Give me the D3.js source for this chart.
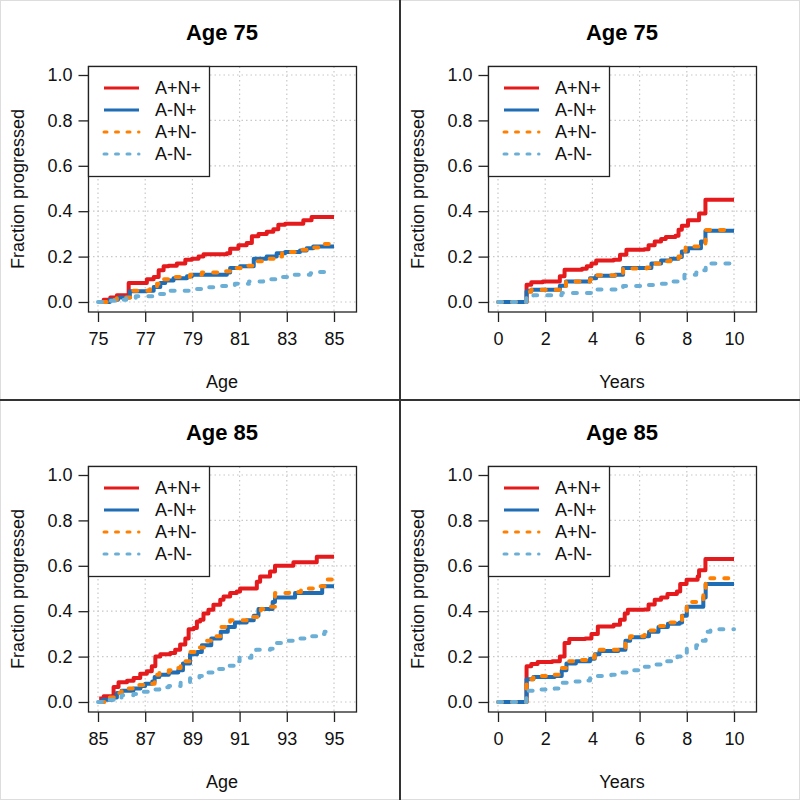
<!DOCTYPE html>
<html>
<head>
<meta charset="utf-8">
<script src="https://cdn.jsdelivr.net/npm/d3@7"></script>
<style>
  body { margin: 0; background: #fff; }
  svg { display: block; font-family: "Liberation Sans", Arial, sans-serif; }
</style>
</head>
<body>
<div class="chart"></div>
<script>
// groups shown in every panel
var groups = ["A+N+", "A-N+", "A+N-", "A-N-"];
var titles = ["Age 75", "Age 75", "Age 85", "Age 85"];
var xLabels = ["Age", "Years", "Age", "Years"];
var yTicks = [0, 0.2, 0.4, 0.6, 0.8, 1.0];
var ageTicks75 = [75, 77, 79, 81, 83, 85];
var ageTicks85 = [85, 87, 89, 91, 93, 95];
var yearTicks = [0, 2, 4, 6, 8, 10];

// Age 75, by age: [age, fraction progressed]
var age75AgeAposNpos = [[75.1,0],[75.24,0.01],[75.52,0.02],[75.8,0.03],[76.3,0.084],[77.07,0.10],[77.36,0.11],[77.57,0.14],[77.78,0.157],[77.99,0.16],[78.34,0.17],[78.7,0.186],[78.98,0.19],[79.26,0.20],[79.47,0.21],[80.46,0.215],[80.6,0.235],[80.95,0.25],[81.3,0.26],[81.52,0.29],[81.8,0.30],[82.15,0.31],[82.43,0.32],[82.64,0.34],[82.93,0.345],[83.7,0.36],[84.05,0.374],[85,0.374]];
var age75AgeAnegNpos = [[75.2,0],[75.5,0.01],[75.85,0.02],[76.35,0.047],[77.07,0.05],[77.36,0.066],[77.64,0.084],[77.85,0.095],[78.2,0.105],[78.77,0.113],[78.98,0.12],[80.46,0.13],[80.6,0.15],[81.02,0.157],[81.6,0.19],[82.15,0.20],[82.57,0.215],[82.93,0.22],[83.56,0.227],[83.84,0.237],[84.12,0.245],[85,0.245]];
var age75AgeAposNneg = [[75.2,0],[75.5,0.01],[75.8,0.02],[76.4,0.05],[77.2,0.06],[77.5,0.08],[77.8,0.10],[78.2,0.11],[78.9,0.12],[79.4,0.13],[80.2,0.135],[80.8,0.15],[81.3,0.16],[81.6,0.18],[82.0,0.19],[82.5,0.20],[82.8,0.22],[83.4,0.23],[84.0,0.24],[84.4,0.255],[85,0.255]];
var age75AgeAnegNneg = [[75.0,0],[75.5,0.005],[75.8,0.01],[76.2,0.015],[76.6,0.025],[77.3,0.035],[78.0,0.05],[78.9,0.057],[79.5,0.065],[80.2,0.07],[80.8,0.08],[81.4,0.09],[82.0,0.10],[82.6,0.11],[83.2,0.12],[84.0,0.127],[84.3,0.132],[84.6,0.132]];

// Age 75, by years since baseline
var age75YrsAposNpos = [[0,0],[1.15,0],[1.21,0.076],[1.41,0.087],[1.9,0.09],[2.62,0.113],[2.82,0.142],[3.56,0.147],[3.76,0.157],[3.96,0.17],[4.16,0.183],[4.9,0.186],[5.17,0.208],[5.44,0.23],[6.2,0.232],[6.38,0.25],[6.64,0.267],[6.91,0.277],[7.11,0.286],[7.52,0.292],[7.65,0.318],[7.79,0.336],[8.05,0.36],[8.52,0.39],[8.79,0.45],[10,0.45]];
var age75YrsAnegNpos = [[0,0],[1.15,0],[1.21,0.047],[1.41,0.054],[2.62,0.072],[2.88,0.09],[3.9,0.105],[4.16,0.116],[4.96,0.12],[5.3,0.15],[6.24,0.15],[6.5,0.17],[6.91,0.183],[7.32,0.19],[7.65,0.198],[7.79,0.223],[8.05,0.237],[8.6,0.267],[8.79,0.314],[10,0.314]];
var age75YrsAposNneg = [[0,0],[1.15,0],[1.21,0.045],[1.41,0.054],[2.62,0.07],[2.88,0.09],[3.9,0.10],[4.16,0.118],[5.0,0.12],[5.3,0.148],[6.3,0.152],[6.5,0.17],[6.91,0.18],[7.3,0.19],[7.65,0.20],[7.79,0.225],[7.95,0.245],[8.5,0.252],[8.79,0.317],[10,0.317]];
var age75YrsAnegNneg = [[0,0],[1.15,0],[1.2,0.02],[1.5,0.03],[2.7,0.04],[4.0,0.055],[5.3,0.07],[6.2,0.075],[6.8,0.08],[7.2,0.09],[7.7,0.10],[7.9,0.12],[8.4,0.13],[8.7,0.14],[8.8,0.165],[9.0,0.17],[10,0.17]];

// Age 85, by age
var age85AgeAposNpos = [[85.05,0.015],[85.24,0.025],[85.66,0.066],[85.87,0.087],[86.23,0.094],[86.51,0.106],[86.79,0.125],[87.07,0.135],[87.28,0.157],[87.43,0.2],[87.64,0.21],[88.06,0.216],[88.27,0.23],[88.48,0.253],[88.7,0.28],[88.84,0.32],[89.05,0.326],[89.19,0.355],[89.33,0.362],[89.47,0.39],[89.68,0.406],[89.89,0.428],[90.18,0.45],[90.32,0.465],[90.6,0.48],[90.88,0.487],[91.02,0.5],[91.73,0.53],[91.87,0.553],[92.29,0.575],[92.5,0.6],[93.28,0.616],[94.27,0.64],[95,0.64]];
var age85AgeAnegNpos = [[85.1,0],[85.2,0.01],[85.6,0.02],[85.8,0.04],[86.0,0.05],[86.5,0.06],[86.8,0.07],[87.0,0.08],[87.3,0.09],[87.4,0.11],[87.6,0.12],[88.0,0.13],[88.4,0.14],[88.6,0.17],[88.9,0.21],[89.2,0.22],[89.4,0.25],[89.8,0.28],[90.2,0.31],[90.5,0.33],[90.8,0.35],[91.3,0.36],[91.6,0.38],[91.8,0.41],[92.4,0.44],[92.5,0.46],[93.35,0.48],[94.5,0.51],[95,0.51]];
var age85AgeAposNneg = [[85.1,0],[85.5,0.02],[85.8,0.04],[86.0,0.06],[86.7,0.075],[87.0,0.08],[87.4,0.12],[87.6,0.13],[88.0,0.14],[88.3,0.15],[88.5,0.18],[88.9,0.22],[89.2,0.24],[89.5,0.27],[89.9,0.29],[90.2,0.33],[90.6,0.36],[91.3,0.375],[91.9,0.41],[92.3,0.42],[92.5,0.48],[93.1,0.485],[93.6,0.50],[94.3,0.51],[94.6,0.54],[95,0.54]];
var age85AgeAnegNneg = [[85.0,0],[85.4,0.01],[85.7,0.02],[86.0,0.03],[86.5,0.035],[86.9,0.045],[87.3,0.055],[87.6,0.065],[88.0,0.07],[88.5,0.085],[88.9,0.105],[89.3,0.115],[89.6,0.13],[90.0,0.145],[90.3,0.16],[90.8,0.18],[91.0,0.195],[91.5,0.21],[91.7,0.23],[92.3,0.235],[92.5,0.26],[92.8,0.27],[93.5,0.28],[94.0,0.29],[94.4,0.30],[94.6,0.31],[95,0.31]];

// Age 85, by years since baseline
var age85YrsAposNpos = [[0,0],[1.15,0],[1.21,0.157],[1.41,0.167],[1.68,0.176],[2.3,0.179],[2.62,0.2],[2.82,0.26],[3.02,0.277],[3.7,0.28],[3.96,0.30],[4.23,0.333],[4.9,0.34],[5.17,0.362],[5.37,0.39],[5.5,0.406],[6.2,0.408],[6.38,0.43],[6.64,0.45],[6.91,0.46],[7.18,0.476],[7.58,0.487],[7.72,0.52],[7.99,0.538],[8.46,0.553],[8.52,0.58],[8.79,0.63],[10,0.63]];
var age85YrsAnegNpos = [[0,0],[1.15,0],[1.21,0.10],[1.5,0.11],[2.4,0.115],[2.7,0.14],[2.9,0.17],[3.3,0.18],[3.9,0.19],[4.1,0.21],[4.3,0.225],[5.1,0.23],[5.4,0.27],[5.6,0.285],[6.2,0.29],[6.4,0.31],[6.8,0.33],[7.2,0.345],[7.7,0.35],[7.8,0.38],[8.0,0.42],[8.7,0.46],[8.8,0.52],[10,0.52]];
var age85YrsAposNneg = [[0,0],[1.15,0],[1.21,0.10],[1.5,0.115],[2.4,0.12],[2.7,0.15],[2.9,0.18],[3.3,0.185],[3.9,0.195],[4.1,0.215],[4.3,0.23],[5.1,0.235],[5.4,0.275],[5.6,0.29],[6.2,0.295],[6.4,0.315],[6.8,0.335],[7.2,0.35],[7.7,0.36],[7.8,0.40],[8.0,0.44],[8.6,0.45],[8.7,0.49],[8.8,0.545],[10,0.545]];
var age85YrsAnegNneg = [[0,0],[1.15,0],[1.2,0.05],[1.6,0.055],[2.4,0.06],[2.7,0.085],[3.0,0.09],[3.5,0.095],[3.9,0.105],[4.2,0.115],[4.8,0.12],[5.2,0.13],[5.6,0.14],[6.0,0.155],[6.5,0.165],[7.0,0.18],[7.6,0.20],[7.9,0.21],[8.0,0.235],[8.4,0.25],[8.5,0.27],[8.8,0.31],[9.0,0.32],[10,0.32]];

var colors = ["#e41a1c", "#1f6db4", "#ff7f00", "#6baed6"];
var dashed = [false, false, true, true];

var panels = [
  { x: 0, y: 0, ticks: ageTicks75, series: [age75AgeAposNpos, age75AgeAnegNpos, age75AgeAposNneg, age75AgeAnegNneg] },
  { x: 400, y: 0, ticks: yearTicks, series: [age75YrsAposNpos, age75YrsAnegNpos, age75YrsAposNneg, age75YrsAnegNneg] },
  { x: 0, y: 400, ticks: ageTicks85, series: [age85AgeAposNpos, age85AgeAnegNpos, age85AgeAposNneg, age85AgeAnegNneg] },
  { x: 400, y: 400, ticks: yearTicks, series: [age85YrsAposNpos, age85YrsAnegNpos, age85YrsAposNneg, age85YrsAnegNneg] }
];

var svg = d3.select(".chart")
  .append("svg")
  .attr("width", 800)
  .attr("height", 800);

// plot box inside each 400x400 panel
var box = { left: 88.5, right: 356.5, top: 66.5, bottom: 312 };

panels.forEach(function(p, i) {
  var g = svg.append("g").attr("transform", `translate(${p.x}, ${p.y})`);

  var xScale = d3.scaleLinear()
    .domain([p.ticks[0], p.ticks[p.ticks.length - 1]])
    .range([98, 334]);
  var yScale = d3.scaleLinear()
    .domain([0, 1])
    .range([302, 75]);

  // grid
  g.selectAll(".vgrid")
    .data(p.ticks)
    .enter()
    .append("line")
    .attr("x1", d => xScale(d)).attr("x2", d => xScale(d))
    .attr("y1", box.top).attr("y2", box.bottom)
    .attr("stroke", "#c8c8c8")
    .attr("stroke-width", 1.2)
    .attr("stroke-dasharray", "1.5,3");
  g.selectAll(".hgrid")
    .data(yTicks)
    .enter()
    .append("line")
    .attr("x1", box.left).attr("x2", box.right)
    .attr("y1", d => yScale(d)).attr("y2", d => yScale(d))
    .attr("stroke", "#c8c8c8")
    .attr("stroke-width", 1.2)
    .attr("stroke-dasharray", "1.5,3");

  // curves
  var line = d3.line()
    .x(d => xScale(d[0]))
    .y(d => yScale(d[1]))
    .curve(d3.curveStepAfter);

  p.series.forEach(function(s, k) {
    g.append("path")
      .datum(s)
      .attr("d", line)
      .attr("fill", "none")
      .attr("stroke", colors[k])
      .attr("stroke-width", 4)
      .attr("stroke-linejoin", "round")
      .attr("stroke-linecap", dashed[k] ? "round" : "butt")
      .attr("stroke-dasharray", dashed[k] ? "4,10" : null);
  });

  // axes
  var bottomAxis = d3.axisBottom(xScale).tickValues(p.ticks).tickSize(10).tickPadding(10);
  var leftAxis = d3.axisLeft(yScale).tickValues(yTicks).tickSize(10).tickPadding(6)
    .tickFormat(d3.format(".1f"));

  var xa = g.append("g")
    .attr("transform", `translate(0, ${box.bottom})`)
    .call(bottomAxis);
  var ya = g.append("g")
    .attr("transform", `translate(${box.left}, 0)`)
    .call(leftAxis);
  [xa, ya].forEach(function(a) {
    a.select(".domain").remove();
    a.selectAll("line").attr("stroke", "#222").attr("stroke-width", 1.3);
    a.selectAll("text")
      .style("font-size", "18px")
      .attr("fill", "#111");
  });

  // plot box
  g.append("rect")
    .attr("x", box.left).attr("y", box.top)
    .attr("width", box.right - box.left)
    .attr("height", box.bottom - box.top)
    .attr("fill", "none")
    .attr("stroke", "#222")
    .attr("stroke-width", 1.3);

  // legend
  var lg = g.append("g");
  lg.append("rect")
    .attr("x", box.left).attr("y", box.top)
    .attr("width", 121).attr("height", 110)
    .attr("fill", "#fff")
    .attr("stroke", "#222")
    .attr("stroke-width", 1.3);
  groups.forEach(function(name, k) {
    var ly = 88 + k * 22;
    lg.append("line")
      .attr("x1", 104).attr("x2", 139)
      .attr("y1", ly).attr("y2", ly)
      .attr("stroke", colors[k])
      .attr("stroke-width", 3)
      .attr("stroke-linecap", dashed[k] ? "round" : "butt")
      .attr("stroke-dasharray", dashed[k] ? "3,8.5" : null);
    lg.append("text")
      .attr("x", 155).attr("y", ly)
      .attr("dy", "0.36em")
      .style("font-size", "18px")
      .attr("fill", "#111")
      .text(name);
  });

  // titles and labels
  g.append("text")
    .attr("x", 222).attr("y", 40)
    .attr("text-anchor", "middle")
    .style("font-size", "22px")
    .style("font-weight", "bold")
    .text(titles[i]);

  g.append("text")
    .attr("x", 222).attr("y", 388)
    .attr("text-anchor", "middle")
    .style("font-size", "18px")
    .attr("fill", "#111")
    .text(xLabels[i]);

  g.append("text")
    .attr("transform", `translate(24, 189) rotate(-90)`)
    .attr("text-anchor", "middle")
    .style("font-size", "18px")
    .attr("fill", "#111")
    .text("Fraction progressed");
});

// panel frames
svg.append("rect")
  .attr("x", 0.5).attr("y", 0.5).attr("width", 799).attr("height", 799)
  .attr("fill", "none").attr("stroke", "#ddd");
svg.append("line")
  .attr("x1", 400).attr("x2", 400).attr("y1", 0).attr("y2", 800)
  .attr("stroke", "#333").attr("stroke-width", 2);
svg.append("line")
  .attr("x1", 0).attr("x2", 800).attr("y1", 400).attr("y2", 400)
  .attr("stroke", "#333").attr("stroke-width", 2);
</script>
</body>
</html>
